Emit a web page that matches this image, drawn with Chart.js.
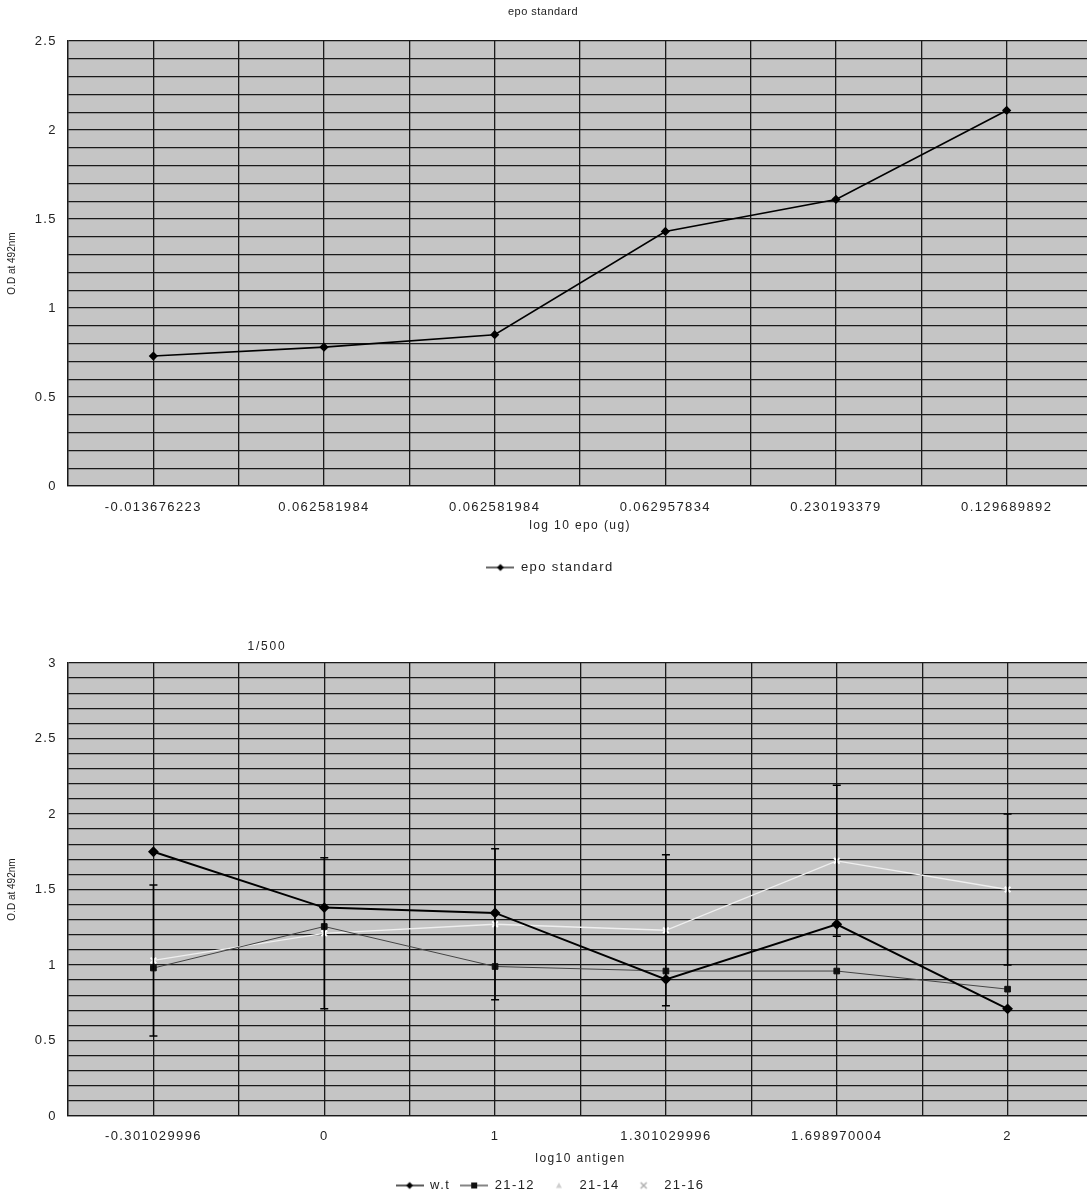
<!DOCTYPE html>
<html>
<head>
<meta charset="utf-8">
<script src="https://cdn.jsdelivr.net/npm/chart.js@4/dist/chart.umd.min.js"></script>
<style>
  html, body { margin: 0; padding: 0; background: #fff; overflow: hidden; width: 1087px; height: 1195px; }
  .box { position: absolute; left: 0; width: 1106px; }
  #b1 { top: 0; height: 584px; }
  #b2 { top: 590px; height: 612px; }
</style>
</head>
<body>
<div class="box" id="b1"><canvas id="c1"></canvas></div>
<div class="box" id="b2"><canvas id="c2"></canvas></div>
<script>
// ---------- data ----------
const epoCategories = ['-0.013676223', '0.062581984', '0.062581984', '0.062957834', '0.230193379', '0.129689892'];
const epoValues = [0.73, 0.78, 0.85, 1.43, 1.61, 2.11];

const antigenCategories = ['-0.301029996', '0', '1', '1.301029996', '1.698970004', '2'];
const wtValues = [1.75, 1.38, 1.345, 0.905, 1.27, 0.71];
const s2112Values = [0.98, 1.255, 0.99, 0.96, 0.96, 0.84];
const s2114Values = [null, null, null, null, null, null];
const s2116Values = [1.03, 1.21, 1.27, 1.23, 1.69, 1.50];
const s2116Errors = [0.5, 0.5, 0.5, 0.5, 0.5, 0.5];

// ---------- helpers ----------
const FONT = "'Liberation Sans', Arial, sans-serif";
const TXT = '#222';
const SPACING = '1.4px';

function toPoints(vals) { return vals.map((v, i) => ({ x: i, y: v })); }

function legendIcon(lineColor, lineWidth, marker, markerColor) {
  const c = document.createElement('canvas');
  c.width = 28; c.height = 10;
  const g = c.getContext('2d');
  g.strokeStyle = lineColor; g.lineWidth = lineWidth;
  g.beginPath(); g.moveTo(0, 5); g.lineTo(28, 5); g.stroke();
  g.fillStyle = markerColor; g.strokeStyle = markerColor;
  if (marker === 'diamond') {
    g.beginPath(); g.moveTo(14, 1.5); g.lineTo(17.5, 5); g.lineTo(14, 8.5); g.lineTo(10.5, 5); g.closePath(); g.fill();
  } else if (marker === 'square') {
    g.fillRect(11, 2, 6, 6);
  } else if (marker === 'triangle') {
    g.beginPath(); g.moveTo(14, 2); g.lineTo(17, 7.5); g.lineTo(11, 7.5); g.closePath(); g.fill();
  } else if (marker === 'cross') {
    g.lineWidth = 1.5;
    g.beginPath(); g.moveTo(11, 2); g.lineTo(17, 8); g.moveTo(17, 2); g.lineTo(11, 8); g.stroke();
  }
  return c;
}

const letterSpacing = {
  id: 'letterSpacing',
  beforeLayout(chart) { chart.ctx.letterSpacing = SPACING; },
  beforeDraw(chart) { chart.ctx.letterSpacing = SPACING; }
};

const plotBg = {
  id: 'plotBg',
  beforeDraw(chart) {
    const { ctx, chartArea: a } = chart;
    ctx.save();
    ctx.fillStyle = '#c5c5c5';
    ctx.fillRect(a.left, a.top, a.width, a.height);
    ctx.restore();
  }
};

const errorBars = {
  id: 'errorBars',
  afterDatasetsDraw(chart) {
    const { ctx, scales: { x, y } } = chart;
    chart.data.datasets.forEach(ds => {
      if (!ds.errorBars) return;
      ds.data.forEach((p, j) => {
        const e = ds.errorBars[j];
        if (!p || p.y == null || e == null) return;
        const px = x.getPixelForValue(p.x);
        const t = y.getPixelForValue(p.y + e);
        const b = y.getPixelForValue(p.y - e);
        ctx.save();
        ctx.strokeStyle = '#000';
        ctx.lineWidth = 1.5;
        ctx.beginPath();
        ctx.moveTo(px, t); ctx.lineTo(px, b);
        ctx.moveTo(px - 4, t); ctx.lineTo(px + 4, t);
        ctx.moveTo(px - 4, b); ctx.lineTo(px + 4, b);
        ctx.stroke();
        ctx.restore();
      });
    });
  }
};

// free-standing texts: chart title and rotated y-axis title
const freeTexts = {
  id: 'freeTexts',
  afterDraw(chart, args, opts) {
    const ctx = chart.ctx, a = chart.chartArea;
    (opts.items || []).forEach(it => {
      ctx.save();
      ctx.font = it.size + 'px ' + FONT;
      ctx.fillStyle = TXT;
      ctx.letterSpacing = it.spacing || '0px';
      ctx.textAlign = 'center';
      ctx.textBaseline = 'middle';
      if (it.rotate) {
        ctx.translate(it.x, (a.top + a.bottom) / 2);
        ctx.rotate(-Math.PI / 2);
        ctx.fillText(it.text, 0, 0);
      } else {
        ctx.fillText(it.text, it.x, it.y);
      }
      ctx.restore();
    });
  }
};

function legendOpts() {
  return {
    display: true,
    position: 'bottom',
    labels: {
      usePointStyle: true,
      pointStyleWidth: 28,
      padding: 10,
      color: TXT,
      font: { family: FONT, size: 13 },
      generateLabels(chart) {
        const items = Chart.defaults.plugins.legend.labels.generateLabels(chart);
        items.forEach((it, i) => { it.pointStyle = chart.data.datasets[i].legendIcon; });
        return items;
      }
    }
  };
}

function scalesFor(categories, yMax, xTitle, xHeight, xTickPad, xTitlePadBottom) {
  return {
    x: {
      type: 'linear',
      min: -0.5, max: categories.length - 0.5,
      afterFit(s) { s.height = xHeight; },
      grid: { color: '#1a1a1a', lineWidth: 1.3, drawTicks: false },
      border: { display: true, color: '#1a1a1a', width: 1.3 },
      ticks: {
        stepSize: 0.5, autoSkip: false, maxRotation: 0, padding: xTickPad,
        color: TXT, font: { family: FONT, size: 13 },
        callback(v) { return Number.isInteger(v) ? categories[v] : ''; }
      },
      title: { display: true, text: xTitle, color: TXT, font: { family: FONT, size: 12 }, padding: { top: 0, bottom: xTitlePadBottom } }
    },
    y: {
      min: 0, max: yMax,
      afterFit(s) { s.width = 68; },
      grid: { color: '#1a1a1a', lineWidth: 1.3, drawTicks: false },
      border: { display: true, color: '#1a1a1a', width: 1.3 },
      ticks: {
        stepSize: 0.1, autoSkip: false, maxTicksLimit: 100, padding: 11,
        color: TXT, font: { family: FONT, size: 13 },
        callback(v) { return Math.abs(v * 2 - Math.round(v * 2)) < 1e-6 ? String(+v.toFixed(1)) : ''; }
      },
      title: { display: false }
    }
  };
}

// ---------- chart 1: epo standard ----------
new Chart(document.getElementById('c1'), {
  type: 'line',
  data: {
    datasets: [{
      label: 'epo standard',
      data: toPoints(epoValues),
      borderColor: '#000', backgroundColor: '#000', borderWidth: 1.6,
      pointStyle: 'rectRot', pointRadius: 3.5, pointBackgroundColor: '#000', pointBorderColor: '#000',
      tension: 0,
      legendIcon: legendIcon('#000', 1.2, 'diamond', '#000')
    }]
  },
  options: {
    responsive: true, maintainAspectRatio: false, animation: false,
    layout: { padding: { left: 0, right: 6, top: 41, bottom: 0 } },
    plugins: {
      title: { display: false },
      legend: legendOpts(),
      tooltip: { enabled: false },
      freeTexts: { items: [
        { text: 'epo standard', x: 543, y: 12, size: 11, spacing: '0.5px' },
        { text: 'O.D at 492nm', x: 12, rotate: true, size: 10, spacing: '0px' }
      ] }
    },
    scales: scalesFor(epoCategories, 2.5, 'log 10 epo (ug)', 65, 14, 18)
  },
  plugins: [letterSpacing, plotBg, freeTexts]
});

// ---------- chart 2: 1/500 ----------
new Chart(document.getElementById('c2'), {
  type: 'line',
  data: {
    datasets: [
      {
        label: 'w.t',
        data: toPoints(wtValues),
        borderColor: '#000', backgroundColor: '#000', borderWidth: 2,
        pointStyle: 'rectRot', pointRadius: 4, pointBackgroundColor: '#000', pointBorderColor: '#000',
        tension: 0,
        legendIcon: legendIcon('#000', 1.3, 'diamond', '#000')
      },
      {
        label: '21-12',
        data: toPoints(s2112Values),
        borderColor: '#444', backgroundColor: '#000', borderWidth: 1,
        pointStyle: 'rect', pointRadius: 4, pointBackgroundColor: '#111', pointBorderColor: '#111',
        tension: 0,
        legendIcon: legendIcon('#333', 1.2, 'square', '#111')
      },
      {
        label: '21-14',
        data: toPoints(s2114Values),
        borderColor: '#fff', backgroundColor: '#fff', borderWidth: 1.5,
        pointStyle: 'triangle', pointRadius: 4, pointBackgroundColor: '#fff', pointBorderColor: '#fff',
        tension: 0,
        legendIcon: legendIcon('#fff', 1.2, 'triangle', '#cfcfcf')
      },
      {
        label: '21-16',
        data: toPoints(s2116Values),
        errorBars: s2116Errors,
        borderColor: '#efefef', backgroundColor: '#fff', borderWidth: 1.3,
        pointStyle: 'crossRot', pointRadius: 4, pointBorderWidth: 2, pointBackgroundColor: '#fff', pointBorderColor: '#fff',
        tension: 0,
        legendIcon: legendIcon('#fff', 1.2, 'cross', '#b0b0b0')
      }
    ]
  },
  options: {
    responsive: true, maintainAspectRatio: false, animation: false,
    layout: { padding: { left: 0, right: 6, top: 73, bottom: 0 } },
    plugins: {
      legend: legendOpts(),
      tooltip: { enabled: false },
      freeTexts: { items: [
        { text: '1/500', x: 267, y: 57, size: 12, spacing: '1.8px' },
        { text: 'O.D at 492nm', x: 12, rotate: true, size: 10, spacing: '0px' }
      ] }
    },
    scales: scalesFor(antigenCategories, 3, 'log10 antigen', 53, 13, 3)
  },
  plugins: [letterSpacing, plotBg, errorBars, freeTexts]
});
</script>
</body>
</html>
